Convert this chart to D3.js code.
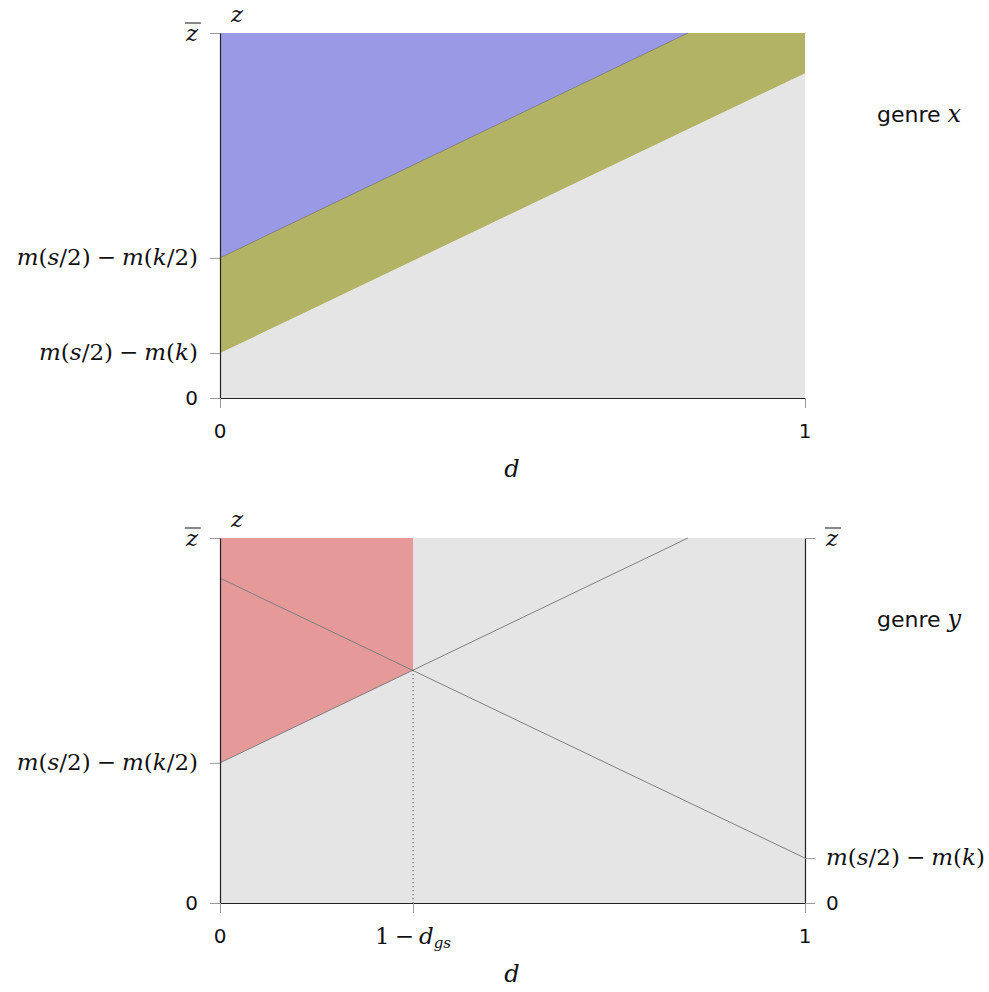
<!DOCTYPE html>
<html>
<head>
<meta charset="utf-8">
<script src="https://cdn.jsdelivr.net/npm/d3@7"></script>
<style>
  body { margin: 0; background: #fff; }
</style>
</head>
<body>
<svg id="chart" width="989" height="992"></svg>
<script>
// values, z scaled so that zbar = 1
const zBar = 1;
const zHalf = 0.384;   // m(s/2) - m(k/2)
const zFull = 0.123;   // m(s/2) - m(k)
const dCross = 0.33;   // 1 - d_gs

// top panel (genre x)
const topUpper = [[0, 0.384], [0.8, 1]];
const topLower = [[0, 0.123], [1, 0.89]];
const blueArea = [[0, 0.384], [0.8, 1], [0, 1]];
const oliveArea = [[0, 0.123], [0, 0.384], [0.8, 1], [1, 1], [1, 0.89]];

// bottom panel (genre y)
const botRising = [[0, 0.384], [0.8, 1]];
const botFalling = [[0, 0.89], [1, 0.123]];
const redArea = [[0, 0.384], [0.33, 0.638], [0.33, 1], [0, 1]];
const crossPoint = [0.33, 0.638];

const leftTicksTop = [[0, "zero"], [zFull, "mFull"], [zHalf, "mHalf"], [zBar, "zbar"]];
const leftTicksBot = [[0, "zero"], [zHalf, "mHalf"], [zBar, "zbar"]];
const rightTicksBot = [[0, "zero"], [zFull, "mFull"], [zBar, "zbar"]];
const dTicksTop = [[0, "0"], [1, "1"]];
const dTicksBot = [[0, "0"], [dCross, "dgs"], [1, "1"]];

const serif = "'DejaVu Serif', serif";
const sans = "'DejaVu Sans', sans-serif";
const mathSize = 23;
const sansSize = 20;

const svg = d3.select("#chart");

// text pieces: [text, italic?, dx]
const labelParts = {
    mHalf: [["m", 1], ["(", 0], ["s", 1], ["/2)", 0], ["\u2212", 0, 6], ["m", 1, 6], ["(", 0], ["k", 1], ["/2)", 0]],
    mFull: [["m", 1], ["(", 0], ["s", 1], ["/2)", 0], ["\u2212", 0, 6], ["m", 1, 6], ["(", 0], ["k", 1], [")", 0]]
};

function mathText(g, parts) {
    g.style("font-family", serif).style("font-size", mathSize + "px").attr("fill", "#111");
    parts.forEach(p => {
        const s = g.append("tspan").text(p[0]).style("font-style", p[1] ? "italic" : "normal");
        if (p[2]) s.attr("dx", p[2]);
    });
}

function drawZLabel(g, key, x, y, anchor) {
    if (key === "zero") {
        g.append("text").attr("x", x).attr("y", y + 7).attr("text-anchor", anchor)
            .style("font-family", sans).style("font-size", sansSize + "px").attr("fill", "#111").text("0");
    } else if (key === "zbar") {
        const t = g.append("text").attr("x", x).attr("y", y + 8).attr("text-anchor", anchor)
            .style("font-family", serif).style("font-size", mathSize + "px")
            .style("font-style", "italic").attr("fill", "#111").text("z");
        const b = t.node().getBBox();
        g.append("line").attr("x1", b.x).attr("x2", b.x + b.width + 2)
            .attr("y1", y - 10).attr("y2", y - 10).attr("stroke", "#111").attr("stroke-width", 1);
    } else {
        const t = g.append("text").attr("x", x).attr("y", y + 7).attr("text-anchor", anchor);
        mathText(t, labelParts[key]);
    }
}

function drawPanel(cfg) {
    const x = d3.scaleLinear().domain([0, 1]).range([220, 805]);
    const y = d3.scaleLinear().domain([0, zBar]).range([cfg.bottom, cfg.top]);
    const g = svg.append("g");
    const line = d3.line().x(d => x(d[0])).y(d => y(d[1]));

    // background region
    g.append("rect").attr("x", x(0)).attr("y", y(zBar))
        .attr("width", x(1) - x(0)).attr("height", y(0) - y(zBar))
        .attr("fill", "#e5e5e5");

    cfg.areas.forEach(a => {
        g.append("path").attr("d", line(a.pts) + "Z").attr("fill", a.color);
    });

    cfg.lines.forEach(l => {
        g.append("path").attr("d", line(l)).attr("fill", "none")
            .attr("stroke", "#808080").attr("stroke-width", 1);
    });

    if (cfg.dotted) {
        g.append("line").attr("x1", x(cfg.dotted[0])).attr("x2", x(cfg.dotted[0]))
            .attr("y1", y(cfg.dotted[1])).attr("y2", y(0))
            .attr("stroke", "#333").attr("stroke-width", 1).attr("stroke-dasharray", "1,3");
    }

    // axes
    const styleAxis = a => {
        a.select(".domain").attr("stroke", "#222").attr("stroke-width", 1.2);
        a.selectAll(".tick line").attr("stroke", "#999");
    };
    g.append("g").attr("transform", `translate(${x(0)},0)`)
        .call(d3.axisLeft(y).tickValues(cfg.leftTicks.map(t => t[0])).tickSize(10).tickSizeOuter(0).tickFormat(""))
        .call(styleAxis);
    g.append("g").attr("transform", `translate(0,${y(0)})`)
        .call(d3.axisBottom(x).tickValues(cfg.dTicks.map(t => t[0])).tickSize(10).tickSizeOuter(0).tickFormat(""))
        .call(styleAxis);
    if (cfg.rightTicks) {
        g.append("g").attr("transform", `translate(${x(1)},0)`)
            .call(d3.axisRight(y).tickValues(cfg.rightTicks.map(t => t[0])).tickSize(10).tickSizeOuter(0).tickFormat(""))
            .call(styleAxis);
        cfg.rightTicks.forEach(t => drawZLabel(g, t[1], x(1) + 21, y(t[0]), "start"));
    }
    cfg.leftTicks.forEach(t => drawZLabel(g, t[1], x(0) - 22, y(t[0]), "end"));

    // d tick labels
    cfg.dTicks.forEach(t => {
        if (t[1] === "dgs") {
            const tx = g.append("text").attr("x", x(t[0])).attr("y", y(0) + 41).attr("text-anchor", "middle")
                .style("font-family", serif).style("font-size", mathSize + "px").attr("fill", "#111");
            tx.append("tspan").text("1");
            tx.append("tspan").text("\u2212").attr("dx", 5);
            tx.append("tspan").text("d").style("font-style", "italic").attr("dx", 5);
            tx.append("tspan").text("gs").style("font-style", "italic").style("font-size", "15px").attr("dy", 4);
        } else {
            g.append("text").attr("x", x(t[0])).attr("y", y(0) + 40).attr("text-anchor", "middle")
                .style("font-family", sans).style("font-size", sansSize + "px").attr("fill", "#111").text(t[1]);
        }
    });

    // axis names
    g.append("text").attr("x", 512).attr("y", y(0) + 79).attr("text-anchor", "middle")
        .style("font-family", serif).style("font-size", "24px").style("font-style", "italic")
        .attr("fill", "#111").text("d");
    g.append("text").attr("x", 237).attr("y", y(zBar) - 11).attr("text-anchor", "middle")
        .style("font-family", serif).style("font-size", mathSize + "px").style("font-style", "italic")
        .attr("fill", "#111").text("z");

    // panel title
    const tt = g.append("text").attr("x", 877).attr("y", y(zBar) + 89)
        .style("font-family", sans).style("font-size", "22px").attr("fill", "#111");
    tt.append("tspan").text("genre ");
    tt.append("tspan").text(cfg.genre).style("font-family", serif).style("font-style", "italic")
        .style("font-size", "24px");
}

drawPanel({
    top: 33, bottom: 398,
    areas: [{ pts: blueArea, color: "#9999e5" }, { pts: oliveArea, color: "#b3b366" }],
    lines: [topUpper],
    leftTicks: leftTicksTop,
    dTicks: dTicksTop,
    genre: "x"
});

drawPanel({
    top: 538, bottom: 903,
    areas: [{ pts: redArea, color: "#e59999" }],
    lines: [botRising, botFalling],
    dotted: crossPoint,
    leftTicks: leftTicksBot,
    rightTicks: rightTicksBot,
    dTicks: dTicksBot,
    genre: "y"
});
</script>
</body>
</html>
